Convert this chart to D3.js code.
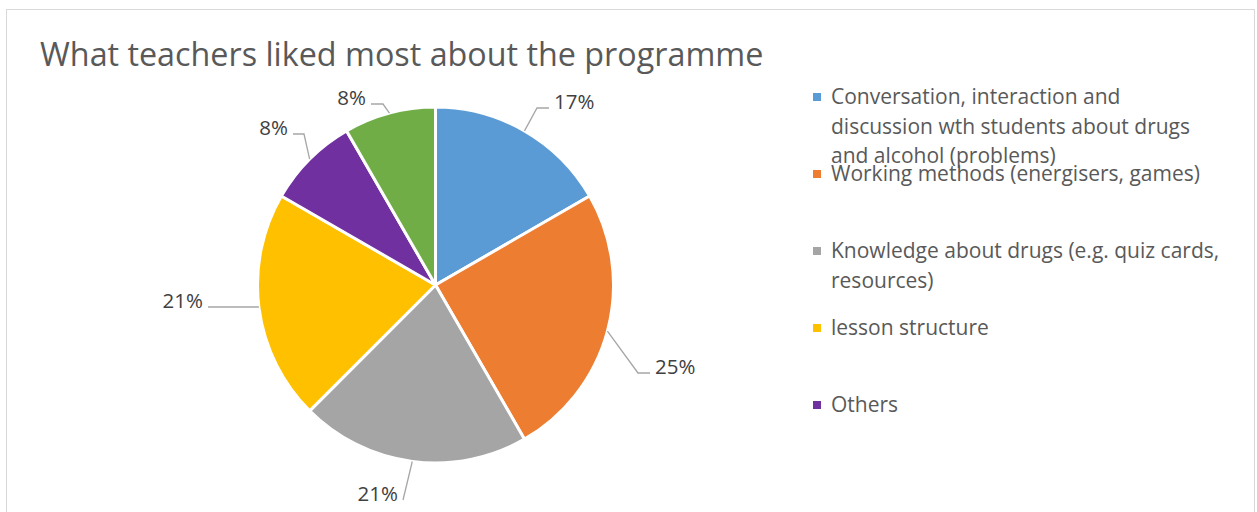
<!DOCTYPE html>
<html>
<head>
<meta charset="utf-8">
<script src="https://cdn.jsdelivr.net/npm/d3@7/dist/d3.min.js"></script>
<style>
  html, body { margin: 0; padding: 0; background: #fff; }
  svg { display: block; }
</style>
</head>
<body>
<svg id="chart" width="1257" height="512"></svg>
<script>
// ---- data ----
const title = "What teachers liked most about the programme";
const categories = [
  "Conversation, interaction and discussion wth students about drugs and alcohol (problems)",
  "Working methods (energisers, games)",
  "Knowledge about drugs (e.g. quiz cards, resources)",
  "lesson structure",
  "Others",
  "Other (not shown in legend)"
];
const counts = [4, 6, 5, 5, 2, 2];
const colors = ["#5B9BD5", "#ED7D31", "#A5A5A5", "#FFC000", "#7030A0", "#70AD47"];
const legendLines = [
  ["Conversation, interaction and", "discussion wth students about drugs", "and alcohol (problems)"],
  ["Working methods (energisers, games)"],
  ["Knowledge about drugs (e.g. quiz cards,", "resources)"],
  ["lesson structure"],
  ["Others"]
];
// label annotation layout (offset of leader end from pie centre)
const labelLayout = [
  {tx: 113.5, ty: -177, elbow: 12, side: "right"},
  {tx: 214.5, ty: 88, elbow: 12, side: "right"},
  {tx: -32.5, ty: 215, elbow: 0, side: "left"},
  {tx: -227.5, ty: 22, elbow: 0, side: "left", horizontal: true},
  {tx: -142.5, ty: -151, elbow: 11, side: "left"},
  {tx: -64.5, ty: -181, elbow: 12, side: "left"}
];

// ---- drawing ----
const FONT = "'Open Sans', Lato, sans-serif";
const svg = d3.select("#chart");
svg.append("rect").attr("x", 0).attr("y", 0).attr("width", 1257).attr("height", 512).attr("fill", "#fff");
svg.append("rect").attr("x", 6.5).attr("y", 9.5).attr("width", 1248).attr("height", 540)
  .attr("fill", "none").attr("stroke", "#D9D9D9").attr("stroke-width", 1);

svg.append("text").attr("x", 40).attr("y", 66)
  .attr("font-family", FONT).attr("font-size", 32.3).attr("fill", "#595959")
  .text(title);

const cx = 435.5, cy = 285, R = 178;
const total = d3.sum(counts);
const pie = d3.pie().sort(null).value(d => d)(counts);
const arc = d3.arc().innerRadius(0).outerRadius(R);
const color = d3.scaleOrdinal().domain(d3.range(counts.length)).range(colors);

const g = svg.append("g").attr("transform", `translate(${cx},${cy})`);
g.selectAll("path.slice").data(pie).join("path")
  .attr("class", "slice")
  .attr("d", arc)
  .attr("fill", (d, i) => color(i))
  .attr("stroke", "#fff").attr("stroke-width", 3).attr("stroke-linejoin", "round");

// labels + leader lines
pie.forEach((d, i) => {
  const L = labelLayout[i];
  const mid = (d.startAngle + d.endAngle) / 2;
  let S;
  if (L.horizontal) {
    S = [-Math.sqrt(R * R - L.ty * L.ty), L.ty];
  } else {
    S = [R * Math.sin(mid), -R * Math.cos(mid)];
  }
  const T = [L.tx, L.ty];
  const E = L.side === "right" ? [T[0] - L.elbow, T[1]] : [T[0] + L.elbow, T[1]];
  g.append("path")
    .attr("d", d3.line()([S, E, T]))
    .attr("fill", "none").attr("stroke", "#A6A6A6").attr("stroke-width", 1.3);
  g.append("text")
    .attr("x", L.side === "right" ? T[0] + 5 : T[0] - 5)
    .attr("y", T[1] + 1)
    .attr("text-anchor", L.side === "right" ? "start" : "end")
    .attr("font-family", FONT).attr("font-size", 20.5).attr("fill", "#404040")
    .text(Math.round(d.value / total * 100) + "%");
});

// legend
const legend = svg.append("g");
legendLines.forEach((lines, i) => {
  const y0 = 97 + i * 77;
  legend.append("rect").attr("x", 813).attr("y", y0 - 4).attr("width", 8).attr("height", 8)
    .attr("fill", color(i));
  const t = legend.append("text").attr("font-family", FONT).attr("font-size", 21).attr("fill", "#595959");
  lines.forEach((ln, j) => {
    t.append("tspan").attr("x", 831).attr("y", y0 + 7 + j * 29.5).text(ln);
  });
});
</script>
</body>
</html>
